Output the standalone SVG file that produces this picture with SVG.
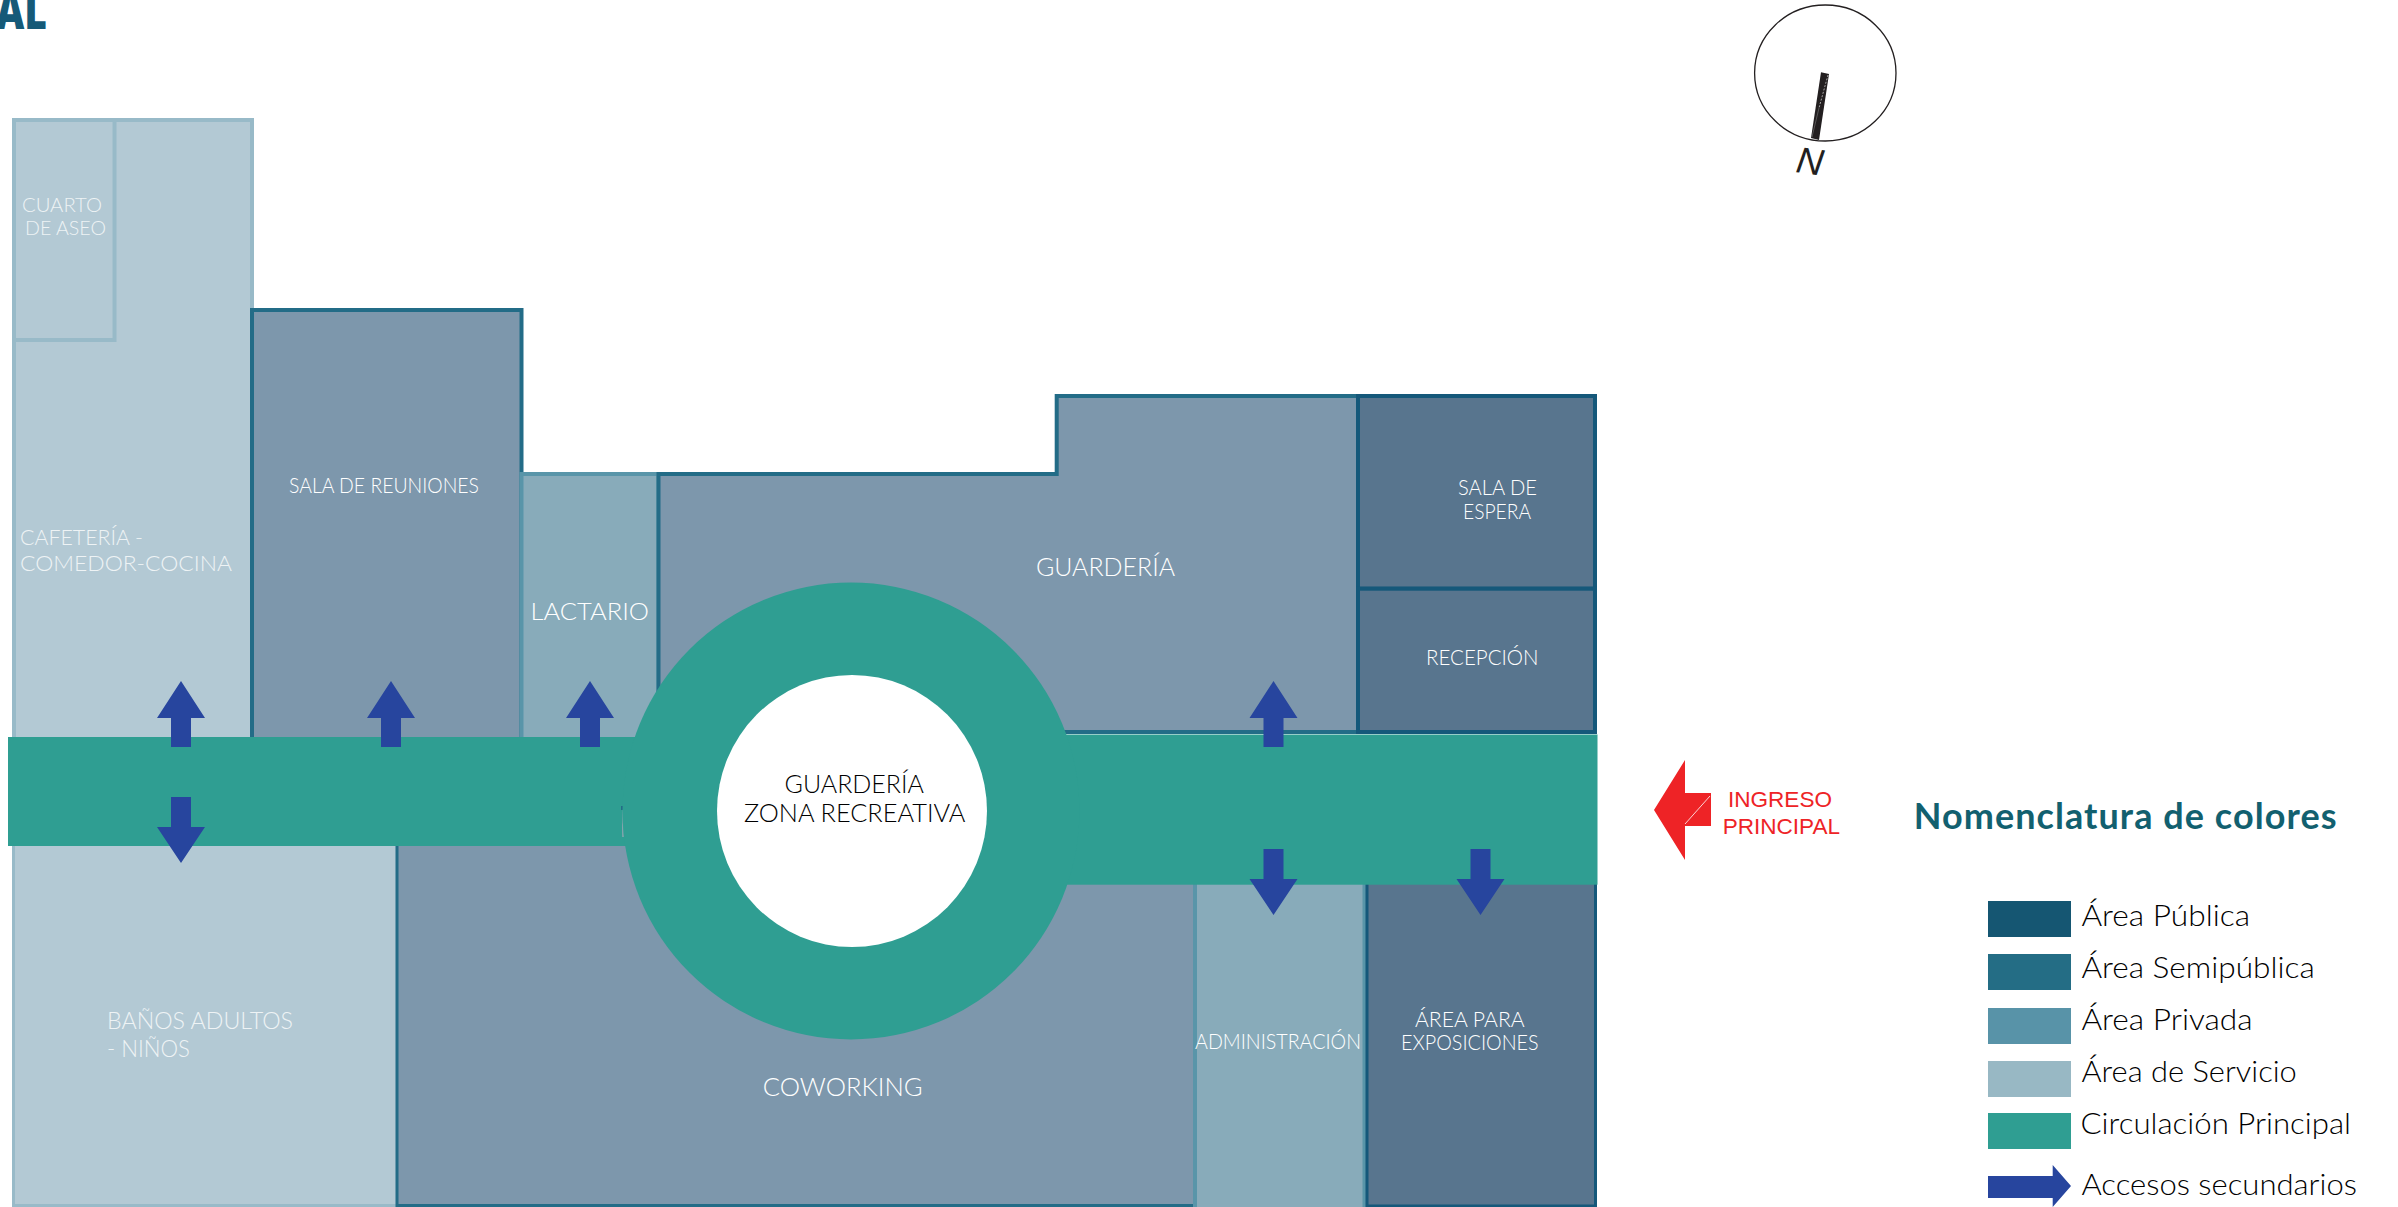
<svg xmlns="http://www.w3.org/2000/svg" width="2398" height="1207" viewBox="0 0 2398 1207">
<style>
text{font-family:"Lato","Liberation Sans",sans-serif;font-weight:300}
.srv{fill:#b3c9d4;stroke:#98bac8;stroke-width:4}
.semi{fill:#7d97ac;stroke:#236c87;stroke-width:4}
.priv{fill:#88abba;stroke:#5995a9;stroke-width:4}
.pub{fill:#58758e;stroke:#15587a;stroke-width:4}
.circ{fill:#2f9e92}
.acc{fill:#27459e}
.lt{fill:#eef3f5}
.wh{fill:#fff}
.dk{fill:#000}
.leg{fill:#000;font-size:29px}
.red{fill:#ee2326;font-family:"Liberation Sans",Arial,sans-serif;font-weight:400;font-size:22.5px}
</style>
<defs>
<polygon id="up" points="0,0 24,37 10,37 10,66 -10,66 -10,37 -24,37"/>
<polygon id="down" points="-10,0 10,0 10,30 24,30 0,66 -24,30 -10,30"/>
</defs>
<rect width="2398" height="1207" fill="#fff"/>
<text id="title-fragment" x="-4" y="29" font-size="50" textLength="51" lengthAdjust="spacingAndGlyphs" style="fill:#155a78;font-family:'Open Sans','Liberation Sans',sans-serif;font-weight:800">AL</text>

<g id="cafeteria"><rect class="srv" x="14" y="120" width="238" height="640"/>
<text class="lt" x="20" y="545" font-size="22" textLength="123" lengthAdjust="spacingAndGlyphs">CAFETERÍA -</text>
<text class="lt" x="20" y="571" font-size="22" textLength="212" lengthAdjust="spacingAndGlyphs">COMEDOR-COCINA</text></g>
<g id="cuarto-aseo"><rect class="srv" x="14" y="120" width="100.500" height="220"/>
<text class="lt" x="22" y="212" font-size="20" textLength="80" lengthAdjust="spacingAndGlyphs">CUARTO</text>
<text class="lt" x="25" y="235" font-size="20" textLength="81" lengthAdjust="spacingAndGlyphs">DE ASEO</text></g>
<g id="banos"><rect class="srv" style="stroke-width:3" x="13.500" y="840" width="384" height="365.500"/>
<text class="lt" x="107" y="1028.500" font-size="24" textLength="186" lengthAdjust="spacingAndGlyphs">BAÑOS ADULTOS</text>
<text class="lt" x="107" y="1057" font-size="24" textLength="83" lengthAdjust="spacingAndGlyphs">- NIÑOS</text></g>
<g id="sala-reuniones"><rect class="semi" x="252" y="310" width="269.500" height="440"/>
<text class="wh" x="289" y="492.500" font-size="21" textLength="190" lengthAdjust="spacingAndGlyphs">SALA DE REUNIONES</text></g>
<g id="lactario"><rect class="priv" x="521.500" y="474" width="137" height="276"/>
<text class="wh" x="530.500" y="620" font-size="24" textLength="118.500" lengthAdjust="spacingAndGlyphs">LACTARIO</text></g>
<g id="guarderia"><path class="semi" d="M658.500 474H1056.700V396H1358V732H658.500Z"/>
<text class="wh" x="1036" y="575.700" font-size="25" textLength="139" lengthAdjust="spacingAndGlyphs">GUARDERÍA</text></g>
<g id="sala-espera"><rect class="pub" x="1358" y="396" width="237" height="192.700"/>
<text class="wh" x="1458" y="495" font-size="21" textLength="79" lengthAdjust="spacingAndGlyphs">SALA DE</text>
<text class="wh" x="1463" y="518.700" font-size="21" textLength="68" lengthAdjust="spacingAndGlyphs">ESPERA</text></g>
<g id="recepcion"><rect class="pub" x="1358" y="588.700" width="237" height="143.300"/>
<text class="wh" x="1426" y="665" font-size="21" textLength="112.600" lengthAdjust="spacingAndGlyphs">RECEPCIÓN</text></g>
<g id="coworking"><rect class="semi" style="stroke-width:3" x="397" y="840" width="798" height="365.500"/>
<text class="wh" x="762.700" y="1096" font-size="25" textLength="160" lengthAdjust="spacingAndGlyphs">COWORKING</text></g>
<g id="administracion"><rect class="priv" x="1195" y="880" width="169.500" height="330"/>
<text class="wh" x="1195" y="1049" font-size="21" textLength="166" lengthAdjust="spacingAndGlyphs">ADMINISTRACIÓN</text></g>
<g id="exposiciones"><rect class="pub" style="stroke-width:3" x="1367" y="880" width="228.500" height="326"/>
<text class="wh" x="1415" y="1026.600" font-size="21" textLength="109.600" lengthAdjust="spacingAndGlyphs">ÁREA PARA</text>
<text class="wh" x="1401" y="1050" font-size="21" textLength="137.600" lengthAdjust="spacingAndGlyphs">EXPOSICIONES</text></g>

<g id="circulacion">
<rect class="circ" x="8" y="737" width="700" height="109"/>
<rect class="circ" x="1000" y="734.500" width="597.500" height="150.200"/>
<path d="M632 752Q621.500 800 623 837" fill="none" stroke="#8ba5b0" stroke-width="1.500"/>
<rect x="621" y="806" width="2" height="4" fill="#236c87"/>
<circle class="circ" cx="851" cy="811" r="228.500"/>
</g>
<g id="zona-recreativa"><ellipse cx="852" cy="811" rx="135" ry="136" fill="#fff"/>
<text class="dk" x="784.500" y="792.500" font-size="25" textLength="139.500" lengthAdjust="spacingAndGlyphs">GUARDERÍA</text>
<text class="dk" x="744" y="822" font-size="25" textLength="221.500" lengthAdjust="spacingAndGlyphs">ZONA RECREATIVA</text></g>

<g id="connectors" class="acc">
<use href="#up" x="181" y="681"/>
<use href="#up" x="391" y="681"/>
<use href="#up" x="590" y="681"/>
<use href="#up" x="1273.500" y="681"/>
<use href="#down" x="181" y="797"/>
<use href="#down" x="1273.500" y="849"/>
<use href="#down" x="1480.500" y="849"/>
</g>

<g id="ingreso-principal">
<polygon fill="#ee2326" points="1654,810 1685,760 1685,793 1711,793 1711,826 1685,826 1685,860"/>
<line x1="1685" y1="824" x2="1710" y2="796" stroke="#fff" stroke-width="0.800"/>
<text class="red" x="1728" y="806.700" textLength="104" lengthAdjust="spacingAndGlyphs">INGRESO</text>
<text class="red" x="1722.700" y="834" textLength="117.300" lengthAdjust="spacingAndGlyphs">PRINCIPAL</text>
</g>

<g id="norte">
<ellipse cx="1825.300" cy="73" rx="70.700" ry="68" fill="none" stroke="#231f20" stroke-width="1.300"/>
<polygon fill="#231f20" points="1821,72.300 1829,74 1819,140 1811,138"/>
<line x1="1828" y1="75" x2="1819" y2="108" stroke="#fff" stroke-width="0.600" stroke-dasharray="2 1.500"/>
<line x1="1819" y1="108" x2="1812" y2="137" stroke="#8a8a8a" stroke-width="0.500"/>
<text transform="translate(1795 172) rotate(8)" font-size="37" style="fill:#231f20;font-family:'Liberation Sans',Arial,sans-serif;font-weight:400;font-style:italic">N</text>
</g>

<g id="leyenda">
<text x="1913.700" y="829" font-size="36" textLength="422.800" lengthAdjust="spacing" style="fill:#12606f;font-family:'Lato','Liberation Sans',sans-serif;font-weight:700">Nomenclatura de colores</text>
<rect x="1988" y="901" width="83" height="36" fill="#155672"/>
<text class="leg" x="2081.400" y="926" textLength="168.600" lengthAdjust="spacingAndGlyphs">Área Pública</text>
<rect x="1988" y="954" width="83" height="36" fill="#246d85"/>
<text class="leg" x="2081.400" y="978" textLength="233.300" lengthAdjust="spacingAndGlyphs">Área Semipública</text>
<rect x="1988" y="1008" width="83" height="36" fill="#5893a8"/>
<text class="leg" x="2081.400" y="1030" textLength="171.200" lengthAdjust="spacingAndGlyphs">Área Privada</text>
<rect x="1988" y="1061" width="83" height="36" fill="#98b8c4"/>
<text class="leg" x="2081.400" y="1082" textLength="215.400" lengthAdjust="spacingAndGlyphs">Área de Servicio</text>
<rect x="1988" y="1113" width="83" height="36" fill="#2f9e92"/>
<text class="leg" x="2080.500" y="1134" textLength="270.500" lengthAdjust="spacingAndGlyphs">Circulación Principal</text>
<polygon class="acc" points="1988,1176 2052.700,1176 2052.700,1165 2071,1186 2052.700,1207 2052.700,1198 1988,1198"/>
<text class="leg" x="2081.400" y="1195" textLength="275.600" lengthAdjust="spacingAndGlyphs">Accesos secundarios</text>
</g>
</svg>
